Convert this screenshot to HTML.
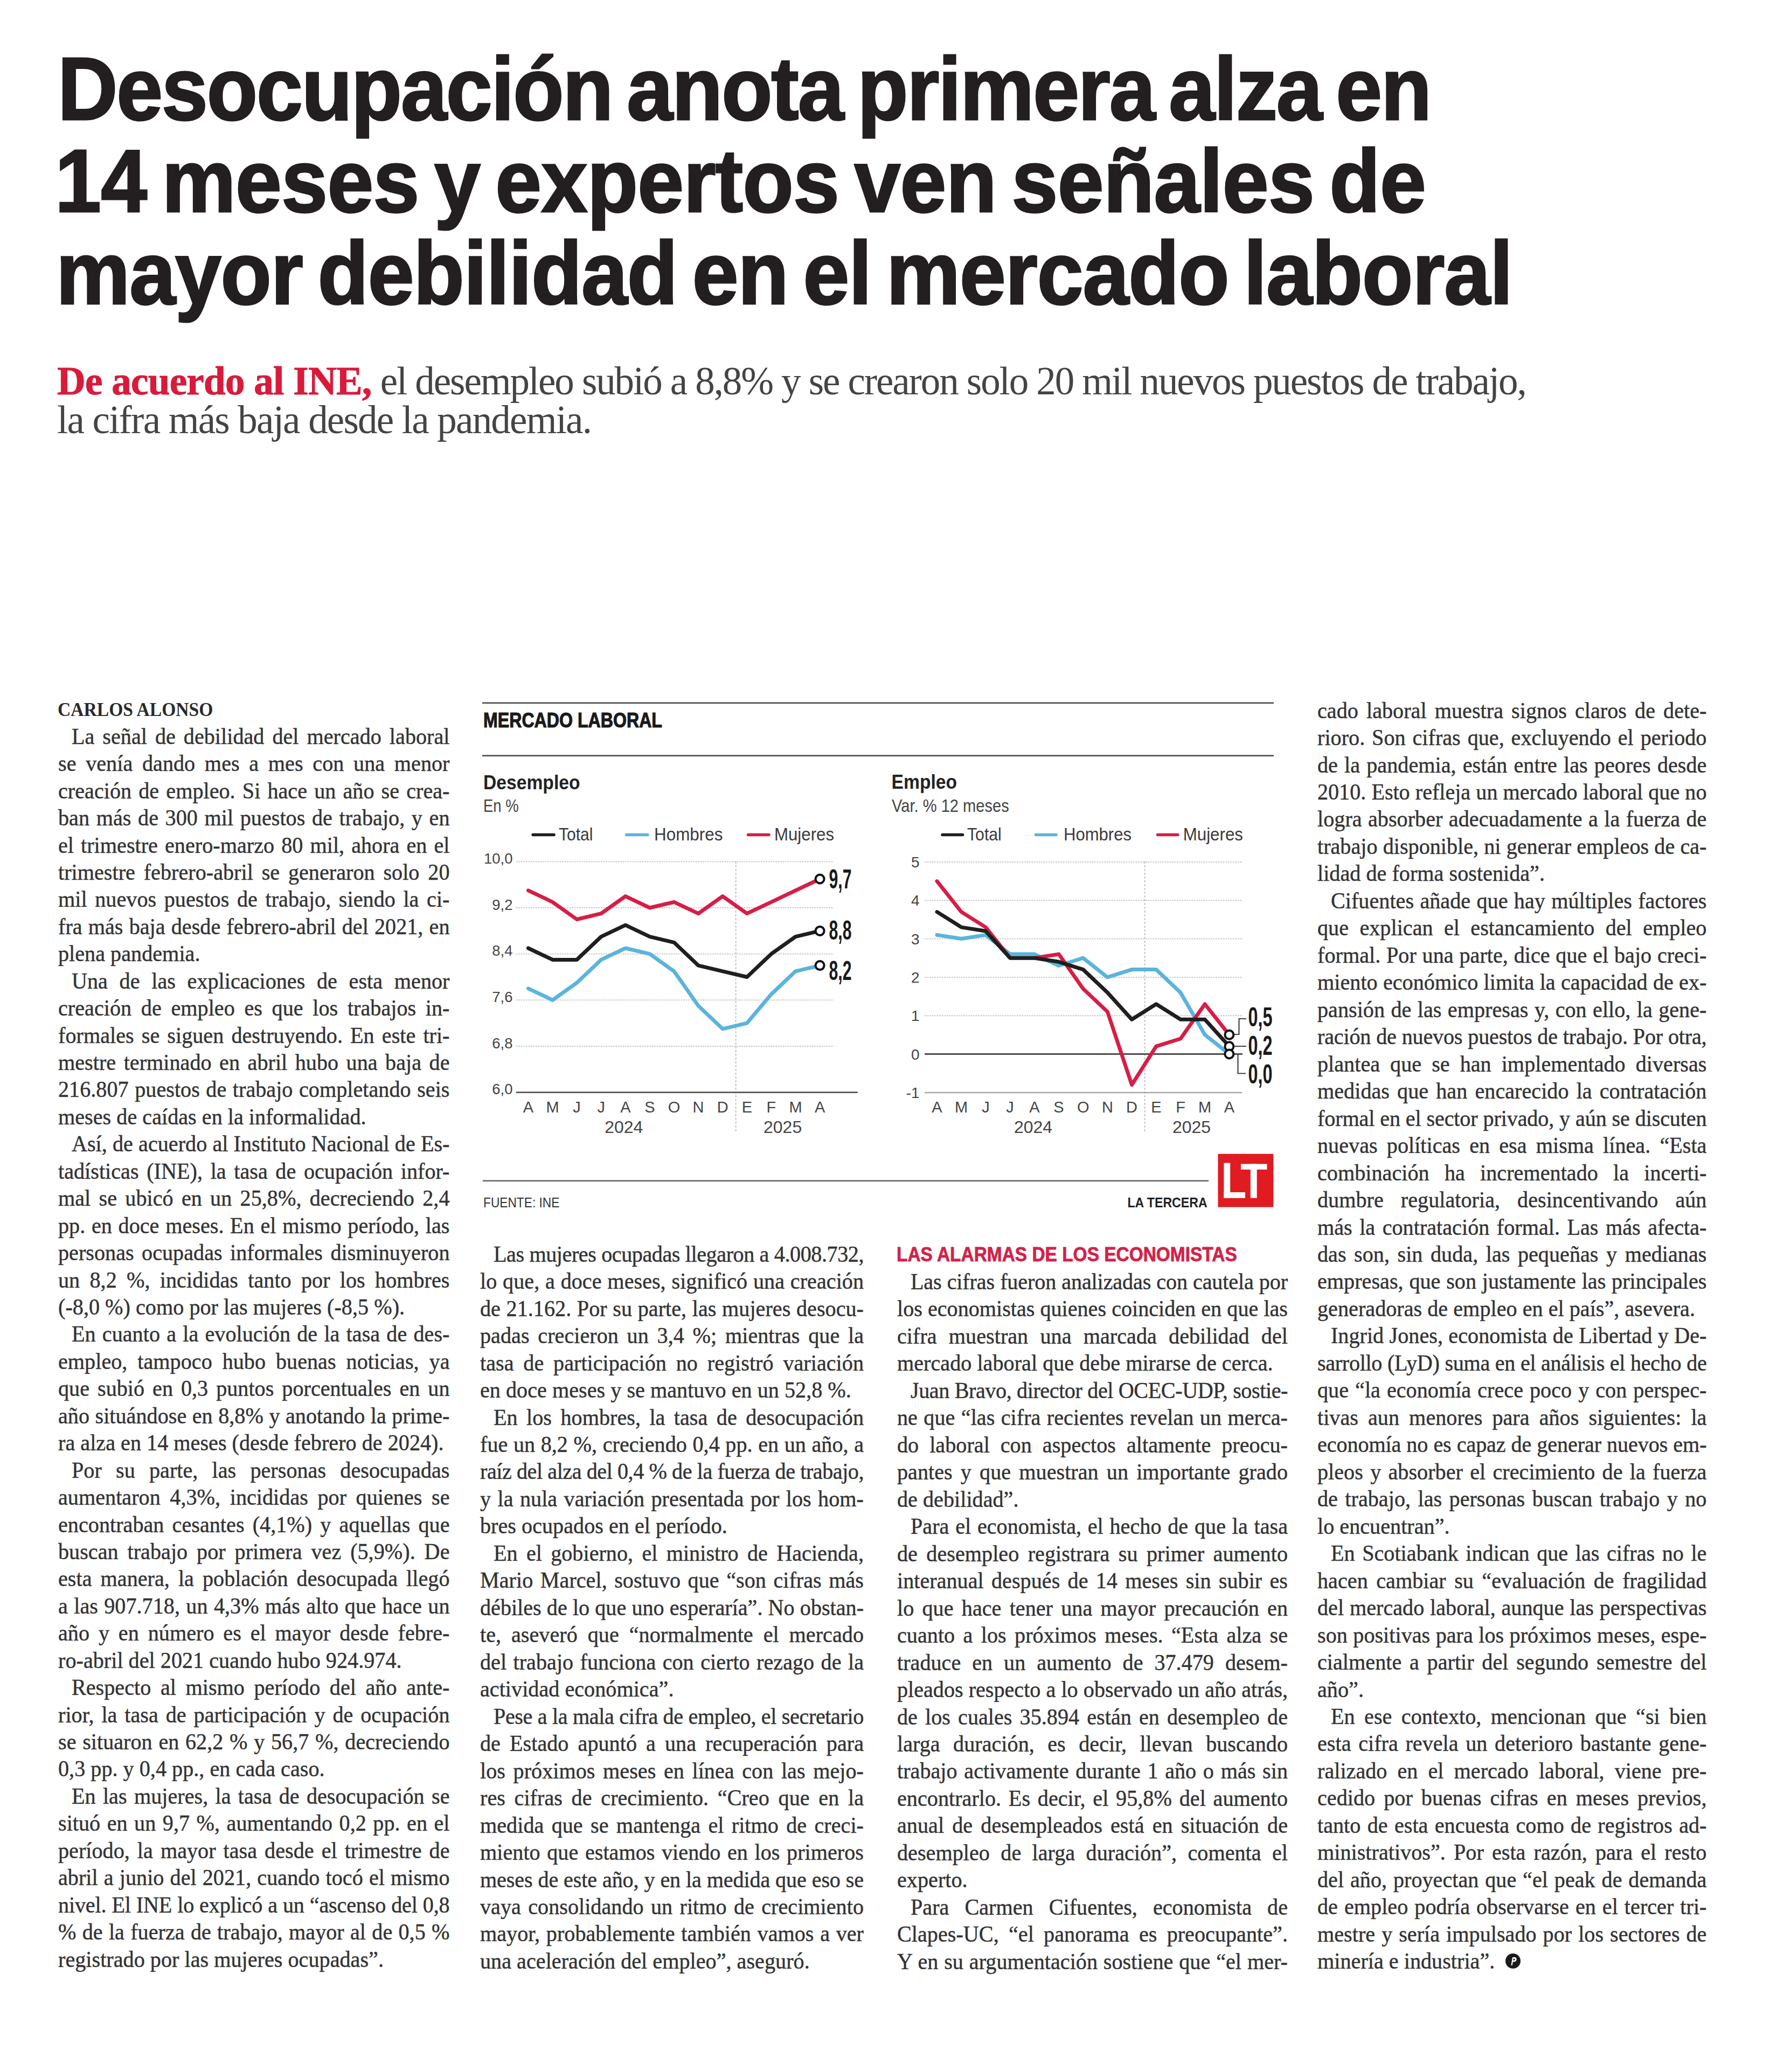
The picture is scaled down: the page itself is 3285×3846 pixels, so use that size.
<!DOCTYPE html>
<html><head><meta charset="utf-8">
<style>
html,body{margin:0;padding:0;background:#fff;}
body{width:3285px;height:3846px;position:relative;overflow:hidden;}
.hl{position:absolute;white-space:nowrap;font-family:"Liberation Sans",sans-serif;font-weight:bold;color:#231f20;transform-origin:0 0;-webkit-text-stroke:3px #231f20;}
.dk{position:absolute;white-space:nowrap;font-family:"Liberation Serif",serif;font-size:73px;line-height:73px;color:#444;}
.dk b{color:#d81b3b;letter-spacing:-0.7px;-webkit-text-stroke:1px #d81b3b;}
.dk span{letter-spacing:-2px;}
.ln{position:absolute;font-family:"Liberation Serif",serif;font-size:43.0px;line-height:50.44px;height:50.44px;color:#333;-webkit-text-stroke:0.45px #333;transform:scaleX(0.935);transform-origin:0 0;text-align:justify;text-align-last:justify;white-space:nowrap;}
.ln.l{text-align:left;text-align-last:left;}
.by{position:absolute;font-family:"Liberation Serif",serif;font-weight:bold;white-space:nowrap;color:#2a2a2a;}
.sh{position:absolute;font-family:"Liberation Sans",sans-serif;font-weight:bold;white-space:nowrap;color:#d2234a;-webkit-text-stroke:0.8px #d2234a;}
</style></head><body>

<div class="hl" style="left:106.6px;top:81.5px;font-size:166px;line-height:166px;transform:scaleX(0.93);letter-spacing:-2.30px;word-spacing:-15px">Desocupación anota primera alza en</div>
<div class="hl" style="left:102.0px;top:252.5px;font-size:166px;line-height:166px;transform:scaleX(0.93);letter-spacing:-0.76px;word-spacing:-15px">14 meses y expertos ven señales de</div>
<div class="hl" style="left:104.0px;top:423.5px;font-size:166px;line-height:166px;transform:scaleX(0.93);letter-spacing:-1.21px;word-spacing:-15px">mayor debilidad en el mercado laboral</div>
<div class="dk" style="left:106px;top:670.5px"><b>De acuerdo al INE,</b><span style="letter-spacing:-2.09px"> el desempleo subió a 8,8% y se crearon solo 20 mil nuevos puestos de trabajo,</span></div>
<div class="dk" style="left:106px;top:742.9px"><span style="letter-spacing:-1.8px">la cifra más baja desde la pandemia.</span></div>
<div class="by" style="left:107px;top:1296.7px;font-size:36.5px;line-height:40px;transform:scaleX(0.92);transform-origin:0 0">CARLOS ALONSO</div>
<div class="ln" style="left:107.5px;top:1341.7px;width:777.0px;text-indent:26.7px">La señal de debilidad del mercado laboral</div>
<div class="ln" style="left:107.5px;top:1392.1px;width:777.0px;text-indent:0.0px">se venía dando mes a mes con una menor</div>
<div class="ln" style="left:107.5px;top:1442.6px;width:777.0px;text-indent:0.0px">creación de empleo. Si hace un año se crea-</div>
<div class="ln" style="left:107.5px;top:1493.0px;width:777.0px;text-indent:0.0px">ban más de 300 mil puestos de trabajo, y en</div>
<div class="ln" style="left:107.5px;top:1543.5px;width:777.0px;text-indent:0.0px">el trimestre enero-marzo 80 mil, ahora en el</div>
<div class="ln" style="left:107.5px;top:1593.9px;width:777.0px;text-indent:0.0px">trimestre febrero-abril se generaron solo 20</div>
<div class="ln" style="left:107.5px;top:1644.3px;width:777.0px;text-indent:0.0px">mil nuevos puestos de trabajo, siendo la ci-</div>
<div class="ln" style="left:107.5px;top:1694.8px;width:777.0px;text-indent:0.0px">fra más baja desde febrero-abril del 2021, en</div>
<div class="ln l" style="left:107.5px;top:1745.2px;width:777.0px;text-indent:0.0px">plena pandemia.</div>
<div class="ln" style="left:107.5px;top:1795.7px;width:777.0px;text-indent:26.7px">Una de las explicaciones de esta menor</div>
<div class="ln" style="left:107.5px;top:1846.1px;width:777.0px;text-indent:0.0px">creación de empleo es que los trabajos in-</div>
<div class="ln" style="left:107.5px;top:1896.5px;width:777.0px;text-indent:0.0px">formales se siguen destruyendo. En este tri-</div>
<div class="ln" style="left:107.5px;top:1947.0px;width:777.0px;text-indent:0.0px">mestre terminado en abril hubo una baja de</div>
<div class="ln" style="left:107.5px;top:1997.4px;width:777.0px;text-indent:0.0px">216.807 puestos de trabajo completando seis</div>
<div class="ln l" style="left:107.5px;top:2047.9px;width:777.0px;text-indent:0.0px">meses de caídas en la informalidad.</div>
<div class="ln" style="left:107.5px;top:2098.3px;width:777.0px;text-indent:26.7px;letter-spacing:-0.01px">Así, de acuerdo al Instituto Nacional de Es-</div>
<div class="ln" style="left:107.5px;top:2148.7px;width:777.0px;text-indent:0.0px">tadísticas (INE), la tasa de ocupación infor-</div>
<div class="ln" style="left:107.5px;top:2199.2px;width:777.0px;text-indent:0.0px">mal se ubicó en un 25,8%, decreciendo 2,4</div>
<div class="ln" style="left:107.5px;top:2249.6px;width:777.0px;text-indent:0.0px">pp. en doce meses. En el mismo período, las</div>
<div class="ln" style="left:107.5px;top:2300.1px;width:777.0px;text-indent:0.0px">personas ocupadas informales disminuyeron</div>
<div class="ln" style="left:107.5px;top:2350.5px;width:777.0px;text-indent:0.0px">un 8,2 %, incididas tanto por los hombres</div>
<div class="ln l" style="left:107.5px;top:2400.9px;width:777.0px;text-indent:0.0px">(-8,0 %) como por las mujeres (-8,5 %).</div>
<div class="ln" style="left:107.5px;top:2451.4px;width:777.0px;text-indent:26.7px">En cuanto a la evolución de la tasa de des-</div>
<div class="ln" style="left:107.5px;top:2501.8px;width:777.0px;text-indent:0.0px">empleo, tampoco hubo buenas noticias, ya</div>
<div class="ln" style="left:107.5px;top:2552.3px;width:777.0px;text-indent:0.0px">que subió en 0,3 puntos porcentuales en un</div>
<div class="ln" style="left:107.5px;top:2602.7px;width:777.0px;text-indent:0.0px">año situándose en 8,8% y anotando la prime-</div>
<div class="ln l" style="left:107.5px;top:2653.1px;width:777.0px;text-indent:0.0px">ra alza en 14 meses (desde febrero de 2024).</div>
<div class="ln" style="left:107.5px;top:2703.6px;width:777.0px;text-indent:26.7px">Por su parte, las personas desocupadas</div>
<div class="ln" style="left:107.5px;top:2754.0px;width:777.0px;text-indent:0.0px">aumentaron 4,3%, incididas por quienes se</div>
<div class="ln" style="left:107.5px;top:2804.5px;width:777.0px;text-indent:0.0px">encontraban cesantes (4,1%) y aquellas que</div>
<div class="ln" style="left:107.5px;top:2854.9px;width:777.0px;text-indent:0.0px">buscan trabajo por primera vez (5,9%). De</div>
<div class="ln" style="left:107.5px;top:2905.3px;width:777.0px;text-indent:0.0px">esta manera, la población desocupada llegó</div>
<div class="ln" style="left:107.5px;top:2955.8px;width:777.0px;text-indent:0.0px">a las 907.718, un 4,3% más alto que hace un</div>
<div class="ln" style="left:107.5px;top:3006.2px;width:777.0px;text-indent:0.0px">año y en número es el mayor desde febre-</div>
<div class="ln l" style="left:107.5px;top:3056.7px;width:777.0px;text-indent:0.0px">ro-abril del 2021 cuando hubo 924.974.</div>
<div class="ln" style="left:107.5px;top:3107.1px;width:777.0px;text-indent:26.7px">Respecto al mismo período del año ante-</div>
<div class="ln" style="left:107.5px;top:3157.5px;width:777.0px;text-indent:0.0px">rior, la tasa de participación y de ocupación</div>
<div class="ln" style="left:107.5px;top:3208.0px;width:777.0px;text-indent:0.0px">se situaron en 62,2 % y 56,7 %, decreciendo</div>
<div class="ln l" style="left:107.5px;top:3258.4px;width:777.0px;text-indent:0.0px">0,3 pp. y 0,4 pp., en cada caso.</div>
<div class="ln" style="left:107.5px;top:3308.9px;width:777.0px;text-indent:26.7px">En las mujeres, la tasa de desocupación se</div>
<div class="ln" style="left:107.5px;top:3359.3px;width:777.0px;text-indent:0.0px">situó en un 9,7 %, aumentando 0,2 pp. en el</div>
<div class="ln" style="left:107.5px;top:3409.7px;width:777.0px;text-indent:0.0px">período, la mayor tasa desde el trimestre de</div>
<div class="ln" style="left:107.5px;top:3460.2px;width:777.0px;text-indent:0.0px">abril a junio del 2021, cuando tocó el mismo</div>
<div class="ln" style="left:107.5px;top:3510.6px;width:777.0px;text-indent:0.0px;letter-spacing:-0.19px">nivel. El INE lo explicó a un “ascenso del 0,8</div>
<div class="ln" style="left:107.5px;top:3561.1px;width:777.0px;text-indent:0.0px">% de la fuerza de trabajo, mayor al de 0,5 %</div>
<div class="ln l" style="left:107.5px;top:3611.5px;width:777.0px;text-indent:0.0px">registrado por las mujeres ocupadas”.</div>
<div class="ln" style="left:891.0px;top:2302.7px;width:761.5px;text-indent:26.7px;letter-spacing:-0.50px">Las mujeres ocupadas llegaron a 4.008.732,</div>
<div class="ln" style="left:891.0px;top:2353.1px;width:761.5px;text-indent:0.0px">lo que, a doce meses, significó una creación</div>
<div class="ln" style="left:891.0px;top:2403.6px;width:761.5px;text-indent:0.0px">de 21.162. Por su parte, las mujeres desocu-</div>
<div class="ln" style="left:891.0px;top:2454.1px;width:761.5px;text-indent:0.0px">padas crecieron un 3,4 %; mientras que la</div>
<div class="ln" style="left:891.0px;top:2504.5px;width:761.5px;text-indent:0.0px">tasa de participación no registró variación</div>
<div class="ln l" style="left:891.0px;top:2555.0px;width:761.5px;text-indent:0.0px">en doce meses y se mantuvo en un 52,8 %.</div>
<div class="ln" style="left:891.0px;top:2605.5px;width:761.5px;text-indent:26.7px">En los hombres, la tasa de desocupación</div>
<div class="ln" style="left:891.0px;top:2656.0px;width:761.5px;text-indent:0.0px">fue un 8,2 %, creciendo 0,4 pp. en un año, a</div>
<div class="ln" style="left:891.0px;top:2706.4px;width:761.5px;text-indent:0.0px;letter-spacing:-0.52px">raíz del alza del 0,4 % de la fuerza de trabajo,</div>
<div class="ln" style="left:891.0px;top:2756.9px;width:761.5px;text-indent:0.0px">y la nula variación presentada por los hom-</div>
<div class="ln l" style="left:891.0px;top:2807.4px;width:761.5px;text-indent:0.0px">bres ocupados en el período.</div>
<div class="ln" style="left:891.0px;top:2857.8px;width:761.5px;text-indent:26.7px">En el gobierno, el ministro de Hacienda,</div>
<div class="ln" style="left:891.0px;top:2908.3px;width:761.5px;text-indent:0.0px">Mario Marcel, sostuvo que “son cifras más</div>
<div class="ln" style="left:891.0px;top:2958.8px;width:761.5px;text-indent:0.0px;letter-spacing:-0.03px">débiles de lo que uno esperaría”. No obstan-</div>
<div class="ln" style="left:891.0px;top:3009.2px;width:761.5px;text-indent:0.0px">te, aseveró que “normalmente el mercado</div>
<div class="ln" style="left:891.0px;top:3059.7px;width:761.5px;text-indent:0.0px">del trabajo funciona con cierto rezago de la</div>
<div class="ln l" style="left:891.0px;top:3110.2px;width:761.5px;text-indent:0.0px">actividad económica”.</div>
<div class="ln" style="left:891.0px;top:3160.7px;width:761.5px;text-indent:26.7px;letter-spacing:-0.43px">Pese a la mala cifra de empleo, el secretario</div>
<div class="ln" style="left:891.0px;top:3211.1px;width:761.5px;text-indent:0.0px">de Estado apuntó a una recuperación para</div>
<div class="ln" style="left:891.0px;top:3261.6px;width:761.5px;text-indent:0.0px">los próximos meses en línea con las mejo-</div>
<div class="ln" style="left:891.0px;top:3312.1px;width:761.5px;text-indent:0.0px">res cifras de crecimiento. “Creo que en la</div>
<div class="ln" style="left:891.0px;top:3362.5px;width:761.5px;text-indent:0.0px">medida que se mantenga el ritmo de creci-</div>
<div class="ln" style="left:891.0px;top:3413.0px;width:761.5px;text-indent:0.0px">miento que estamos viendo en los primeros</div>
<div class="ln" style="left:891.0px;top:3463.5px;width:761.5px;text-indent:0.0px;letter-spacing:-0.17px">meses de este año, y en la medida que eso se</div>
<div class="ln" style="left:891.0px;top:3513.9px;width:761.5px;text-indent:0.0px">vaya consolidando un ritmo de crecimiento</div>
<div class="ln" style="left:891.0px;top:3564.4px;width:761.5px;text-indent:0.0px">mayor, probablemente también vamos a ver</div>
<div class="ln l" style="left:891.0px;top:3614.9px;width:761.5px;text-indent:0.0px">una aceleración del empleo”, aseguró.</div>
<div class="ln" style="left:1665.0px;top:2353.9px;width:775.4px;text-indent:26.7px;letter-spacing:-0.16px">Las cifras fueron analizadas con cautela por</div>
<div class="ln" style="left:1665.0px;top:2404.4px;width:775.4px;text-indent:0.0px;letter-spacing:-0.04px">los economistas quienes coinciden en que las</div>
<div class="ln" style="left:1665.0px;top:2454.9px;width:775.4px;text-indent:0.0px">cifra muestran una marcada debilidad del</div>
<div class="ln l" style="left:1665.0px;top:2505.3px;width:775.4px;text-indent:0.0px">mercado laboral que debe mirarse de cerca.</div>
<div class="ln" style="left:1665.0px;top:2555.8px;width:775.4px;text-indent:26.7px;letter-spacing:-0.48px">Juan Bravo, director del OCEC-UDP, sostie-</div>
<div class="ln" style="left:1665.0px;top:2606.3px;width:775.4px;text-indent:0.0px">ne que “las cifra recientes revelan un merca-</div>
<div class="ln" style="left:1665.0px;top:2656.8px;width:775.4px;text-indent:0.0px">do laboral con aspectos altamente preocu-</div>
<div class="ln" style="left:1665.0px;top:2707.2px;width:775.4px;text-indent:0.0px">pantes y que muestran un importante grado</div>
<div class="ln l" style="left:1665.0px;top:2757.7px;width:775.4px;text-indent:0.0px">de debilidad”.</div>
<div class="ln" style="left:1665.0px;top:2808.2px;width:775.4px;text-indent:26.7px">Para el economista, el hecho de que la tasa</div>
<div class="ln" style="left:1665.0px;top:2858.6px;width:775.4px;text-indent:0.0px">de desempleo registrara su primer aumento</div>
<div class="ln" style="left:1665.0px;top:2909.1px;width:775.4px;text-indent:0.0px">interanual después de 14 meses sin subir es</div>
<div class="ln" style="left:1665.0px;top:2959.6px;width:775.4px;text-indent:0.0px">lo que hace tener una mayor precaución en</div>
<div class="ln" style="left:1665.0px;top:3010.0px;width:775.4px;text-indent:0.0px">cuanto a los próximos meses. “Esta alza se</div>
<div class="ln" style="left:1665.0px;top:3060.5px;width:775.4px;text-indent:0.0px">traduce en un aumento de 37.479 desem-</div>
<div class="ln" style="left:1665.0px;top:3111.0px;width:775.4px;text-indent:0.0px;letter-spacing:-0.04px">pleados respecto a lo observado un año atrás,</div>
<div class="ln" style="left:1665.0px;top:3161.5px;width:775.4px;text-indent:0.0px">de los cuales 35.894 están en desempleo de</div>
<div class="ln" style="left:1665.0px;top:3211.9px;width:775.4px;text-indent:0.0px">larga duración, es decir, llevan buscando</div>
<div class="ln" style="left:1665.0px;top:3262.4px;width:775.4px;text-indent:0.0px">trabajo activamente durante 1 año o más sin</div>
<div class="ln" style="left:1665.0px;top:3312.9px;width:775.4px;text-indent:0.0px">encontrarlo. Es decir, el 95,8% del aumento</div>
<div class="ln" style="left:1665.0px;top:3363.3px;width:775.4px;text-indent:0.0px">anual de desempleados está en situación de</div>
<div class="ln" style="left:1665.0px;top:3413.8px;width:775.4px;text-indent:0.0px">desempleo de larga duración”, comenta el</div>
<div class="ln l" style="left:1665.0px;top:3464.3px;width:775.4px;text-indent:0.0px">experto.</div>
<div class="ln" style="left:1665.0px;top:3514.7px;width:775.4px;text-indent:26.7px">Para Carmen Cifuentes, economista de</div>
<div class="ln" style="left:1665.0px;top:3565.2px;width:775.4px;text-indent:0.0px">Clapes-UC, “el panorama es preocupante”.</div>
<div class="ln" style="left:1665.0px;top:3615.7px;width:775.4px;text-indent:0.0px">Y en su argumentación sostiene que “el mer-</div>
<div class="ln" style="left:2444.5px;top:1293.6px;width:772.7px;text-indent:0.0px">cado laboral muestra signos claros de dete-</div>
<div class="ln" style="left:2444.5px;top:1344.0px;width:772.7px;text-indent:0.0px">rioro. Son cifras que, excluyendo el periodo</div>
<div class="ln" style="left:2444.5px;top:1394.5px;width:772.7px;text-indent:0.0px">de la pandemia, están entre las peores desde</div>
<div class="ln" style="left:2444.5px;top:1445.0px;width:772.7px;text-indent:0.0px;letter-spacing:-0.05px">2010. Esto refleja un mercado laboral que no</div>
<div class="ln" style="left:2444.5px;top:1495.4px;width:772.7px;text-indent:0.0px">logra absorber adecuadamente a la fuerza de</div>
<div class="ln" style="left:2444.5px;top:1545.9px;width:772.7px;text-indent:0.0px;letter-spacing:-0.02px">trabajo disponible, ni generar empleos de ca-</div>
<div class="ln l" style="left:2444.5px;top:1596.4px;width:772.7px;text-indent:0.0px">lidad de forma sostenida”.</div>
<div class="ln" style="left:2444.5px;top:1646.9px;width:772.7px;text-indent:26.7px">Cifuentes añade que hay múltiples factores</div>
<div class="ln" style="left:2444.5px;top:1697.3px;width:772.7px;text-indent:0.0px">que explican el estancamiento del empleo</div>
<div class="ln" style="left:2444.5px;top:1747.8px;width:772.7px;text-indent:0.0px">formal. Por una parte, dice que el bajo creci-</div>
<div class="ln" style="left:2444.5px;top:1798.3px;width:772.7px;text-indent:0.0px">miento económico limita la capacidad de ex-</div>
<div class="ln" style="left:2444.5px;top:1848.7px;width:772.7px;text-indent:0.0px">pansión de las empresas y, con ello, la gene-</div>
<div class="ln" style="left:2444.5px;top:1899.2px;width:772.7px;text-indent:0.0px;letter-spacing:-0.23px">ración de nuevos puestos de trabajo. Por otra,</div>
<div class="ln" style="left:2444.5px;top:1949.7px;width:772.7px;text-indent:0.0px">plantea que se han implementado diversas</div>
<div class="ln" style="left:2444.5px;top:2000.1px;width:772.7px;text-indent:0.0px">medidas que han encarecido la contratación</div>
<div class="ln" style="left:2444.5px;top:2050.6px;width:772.7px;text-indent:0.0px;letter-spacing:-0.17px">formal en el sector privado, y aún se discuten</div>
<div class="ln" style="left:2444.5px;top:2101.1px;width:772.7px;text-indent:0.0px">nuevas políticas en esa misma línea. “Esta</div>
<div class="ln" style="left:2444.5px;top:2151.6px;width:772.7px;text-indent:0.0px">combinación ha incrementado la incerti-</div>
<div class="ln" style="left:2444.5px;top:2202.0px;width:772.7px;text-indent:0.0px">dumbre regulatoria, desincentivando aún</div>
<div class="ln" style="left:2444.5px;top:2252.5px;width:772.7px;text-indent:0.0px">más la contratación formal. Las más afecta-</div>
<div class="ln" style="left:2444.5px;top:2303.0px;width:772.7px;text-indent:0.0px">das son, sin duda, las pequeñas y medianas</div>
<div class="ln" style="left:2444.5px;top:2353.4px;width:772.7px;text-indent:0.0px">empresas, que son justamente las principales</div>
<div class="ln l" style="left:2444.5px;top:2403.9px;width:772.7px;text-indent:0.0px">generadoras de empleo en el país”, asevera.</div>
<div class="ln" style="left:2444.5px;top:2454.4px;width:772.7px;text-indent:26.7px">Ingrid Jones, economista de Libertad y De-</div>
<div class="ln" style="left:2444.5px;top:2504.8px;width:772.7px;text-indent:0.0px;letter-spacing:-0.36px">sarrollo (LyD) suma en el análisis el hecho de</div>
<div class="ln" style="left:2444.5px;top:2555.3px;width:772.7px;text-indent:0.0px">que “la economía crece poco y con perspec-</div>
<div class="ln" style="left:2444.5px;top:2605.8px;width:772.7px;text-indent:0.0px">tivas aun menores para años siguientes: la</div>
<div class="ln" style="left:2444.5px;top:2656.3px;width:772.7px;text-indent:0.0px;letter-spacing:-0.13px">economía no es capaz de generar nuevos em-</div>
<div class="ln" style="left:2444.5px;top:2706.7px;width:772.7px;text-indent:0.0px">pleos y absorber el crecimiento de la fuerza</div>
<div class="ln" style="left:2444.5px;top:2757.2px;width:772.7px;text-indent:0.0px">de trabajo, las personas buscan trabajo y no</div>
<div class="ln l" style="left:2444.5px;top:2807.7px;width:772.7px;text-indent:0.0px">lo encuentran”.</div>
<div class="ln" style="left:2444.5px;top:2858.1px;width:772.7px;text-indent:26.7px">En Scotiabank indican que las cifras no le</div>
<div class="ln" style="left:2444.5px;top:2908.6px;width:772.7px;text-indent:0.0px">hacen cambiar su “evaluación de fragilidad</div>
<div class="ln" style="left:2444.5px;top:2959.1px;width:772.7px;text-indent:0.0px">del mercado laboral, aunque las perspectivas</div>
<div class="ln" style="left:2444.5px;top:3009.5px;width:772.7px;text-indent:0.0px">son positivas para los próximos meses, espe-</div>
<div class="ln" style="left:2444.5px;top:3060.0px;width:772.7px;text-indent:0.0px">cialmente a partir del segundo semestre del</div>
<div class="ln l" style="left:2444.5px;top:3110.5px;width:772.7px;text-indent:0.0px">año”.</div>
<div class="ln" style="left:2444.5px;top:3161.0px;width:772.7px;text-indent:26.7px">En ese contexto, mencionan que “si bien</div>
<div class="ln" style="left:2444.5px;top:3211.4px;width:772.7px;text-indent:0.0px">esta cifra revela un deterioro bastante gene-</div>
<div class="ln" style="left:2444.5px;top:3261.9px;width:772.7px;text-indent:0.0px">ralizado en el mercado laboral, viene pre-</div>
<div class="ln" style="left:2444.5px;top:3312.4px;width:772.7px;text-indent:0.0px">cedido por buenas cifras en meses previos,</div>
<div class="ln" style="left:2444.5px;top:3362.8px;width:772.7px;text-indent:0.0px">tanto de esta encuesta como de registros ad-</div>
<div class="ln" style="left:2444.5px;top:3413.3px;width:772.7px;text-indent:0.0px">ministrativos”. Por esta razón, para el resto</div>
<div class="ln" style="left:2444.5px;top:3463.8px;width:772.7px;text-indent:0.0px">del año, proyectan que “el peak de demanda</div>
<div class="ln" style="left:2444.5px;top:3514.2px;width:772.7px;text-indent:0.0px">de empleo podría observarse en el tercer tri-</div>
<div class="ln" style="left:2444.5px;top:3564.7px;width:772.7px;text-indent:0.0px">mestre y sería impulsado por los sectores de</div>
<div class="ln l" style="left:2444.5px;top:3615.2px;width:772.7px;text-indent:0.0px">minería e industria”.</div>
<div class="sh" style="left:1664px;top:2308.9px;font-size:36px;line-height:40px;transform:scaleX(0.929);transform-origin:0 0">LAS ALARMAS DE LOS ECONOMISTAS</div>
<svg style="position:absolute;left:2790px;top:3622px" width="36" height="36" viewBox="0 0 36 36"><circle cx="18" cy="18" r="14" fill="#1a1a1a"/><path d="M14.5,26 L17,11 H20.5 C24,11 25,13 24.6,15.5 C24.2,18 22.5,19.5 19.5,19.5 H17.8 L16.7,26 Z M18.3,16.8 H19.6 C21,16.8 21.6,16.2 21.7,15.3 C21.8,14.4 21.3,13.8 20.1,13.8 H18.8 Z" fill="#fff" fill-rule="evenodd"/></svg>
<svg style="position:absolute;left:0;top:0" width="3285" height="3846" viewBox="0 0 3285 3846" font-family='"Liberation Sans",sans-serif'>
<rect x="895" y="1303.5" width="1469" height="2.6" fill="#4a4a4a"/>
<rect x="895" y="1401.4" width="1469" height="2.6" fill="#4a4a4a"/>
<rect x="896" y="2190.5" width="1347" height="2.6" fill="#666"/>
<text x="897.0" y="1350.0" font-size="38.0" font-weight="bold" fill="#1a1a1a" textLength="332.0" lengthAdjust="spacingAndGlyphs" stroke="#1a1a1a" stroke-width="1.2">MERCADO LABORAL</text>
<text x="897.0" y="1465.3" font-size="37.5" font-weight="bold" fill="#222" textLength="179.5" lengthAdjust="spacingAndGlyphs">Desempleo</text>
<text x="897.0" y="1507.0" font-size="33.0" fill="#444" textLength="65.7" lengthAdjust="spacingAndGlyphs">En %</text>
<text x="1654.6" y="1464.4" font-size="37.5" font-weight="bold" fill="#222" textLength="121.4" lengthAdjust="spacingAndGlyphs">Empleo</text>
<text x="1655.0" y="1506.8" font-size="33.0" fill="#444" textLength="217.8" lengthAdjust="spacingAndGlyphs">Var. % 12 meses</text>
<line x1="989.1" y1="1549.5" x2="1028.0" y2="1549.5" stroke="#1f1f1f" stroke-width="5.5" stroke-linecap="round"/>
<text x="1037.0" y="1560.0" font-size="33.0" fill="#3a3a3a" textLength="63.5" lengthAdjust="spacingAndGlyphs">Total</text>
<line x1="1162.5" y1="1549.5" x2="1202.0" y2="1549.5" stroke="#5ab4dc" stroke-width="5.5" stroke-linecap="round"/>
<text x="1214.0" y="1560.0" font-size="33.0" fill="#3a3a3a" textLength="127.4" lengthAdjust="spacingAndGlyphs">Hombres</text>
<line x1="1388.5" y1="1549.5" x2="1427.0" y2="1549.5" stroke="#d61e46" stroke-width="5.5" stroke-linecap="round"/>
<text x="1437.0" y="1560.0" font-size="33.0" fill="#3a3a3a" textLength="111.0" lengthAdjust="spacingAndGlyphs">Mujeres</text>
<line x1="1749.0" y1="1549.5" x2="1786.5" y2="1549.5" stroke="#1f1f1f" stroke-width="5.5" stroke-linecap="round"/>
<text x="1795.0" y="1560.0" font-size="33.0" fill="#3a3a3a" textLength="63.8" lengthAdjust="spacingAndGlyphs">Total</text>
<line x1="1922.5" y1="1549.5" x2="1960.1" y2="1549.5" stroke="#5ab4dc" stroke-width="5.5" stroke-linecap="round"/>
<text x="1974.0" y="1560.0" font-size="33.0" fill="#3a3a3a" textLength="126.0" lengthAdjust="spacingAndGlyphs">Hombres</text>
<line x1="2148.5" y1="1549.5" x2="2186.0" y2="1549.5" stroke="#d61e46" stroke-width="5.5" stroke-linecap="round"/>
<text x="2195.7" y="1560.0" font-size="33.0" fill="#3a3a3a" textLength="111.3" lengthAdjust="spacingAndGlyphs">Mujeres</text>
<line x1="957.8" y1="1599.4" x2="1547.5" y2="1599.4" stroke="#c4c4c4" stroke-width="2" stroke-dasharray="2.5,2"/>
<line x1="957.8" y1="1685.0" x2="1547.5" y2="1685.0" stroke="#c4c4c4" stroke-width="2" stroke-dasharray="2.5,2"/>
<line x1="957.8" y1="1770.7" x2="1547.5" y2="1770.7" stroke="#c4c4c4" stroke-width="2" stroke-dasharray="2.5,2"/>
<line x1="957.8" y1="1856.3" x2="1547.5" y2="1856.3" stroke="#c4c4c4" stroke-width="2" stroke-dasharray="2.5,2"/>
<line x1="957.8" y1="1942.0" x2="1547.5" y2="1942.0" stroke="#c4c4c4" stroke-width="2" stroke-dasharray="2.5,2"/>
<text x="951.5" y="1602.9" font-size="27.5" text-anchor="end" fill="#444">10,0</text>
<text x="951.5" y="1688.5" font-size="27.5" text-anchor="end" fill="#444">9,2</text>
<text x="951.5" y="1774.2" font-size="27.5" text-anchor="end" fill="#444">8,4</text>
<text x="951.5" y="1859.8" font-size="27.5" text-anchor="end" fill="#444">7,6</text>
<text x="951.5" y="1945.5" font-size="27.5" text-anchor="end" fill="#444">6,8</text>
<text x="951.5" y="2031.1" font-size="27.5" text-anchor="end" fill="#444">6,0</text>
<line x1="1365.6" y1="1599" x2="1365.6" y2="2103" stroke="#c4c4c4" stroke-width="2" stroke-dasharray="4,3"/>
<rect x="957.8" y="2026.3" width="634" height="2.7" fill="#555"/>
<text x="980.4" y="2065.0" font-size="29.0" text-anchor="middle" fill="#444">A</text>
<text x="1025.5" y="2065.0" font-size="29.0" text-anchor="middle" fill="#444">M</text>
<text x="1070.6" y="2065.0" font-size="29.0" text-anchor="middle" fill="#444">J</text>
<text x="1115.7" y="2065.0" font-size="29.0" text-anchor="middle" fill="#444">J</text>
<text x="1160.8" y="2065.0" font-size="29.0" text-anchor="middle" fill="#444">A</text>
<text x="1205.9" y="2065.0" font-size="29.0" text-anchor="middle" fill="#444">S</text>
<text x="1251.0" y="2065.0" font-size="29.0" text-anchor="middle" fill="#444">O</text>
<text x="1296.1" y="2065.0" font-size="29.0" text-anchor="middle" fill="#444">N</text>
<text x="1341.2" y="2065.0" font-size="29.0" text-anchor="middle" fill="#444">D</text>
<text x="1386.3" y="2065.0" font-size="29.0" text-anchor="middle" fill="#444">E</text>
<text x="1431.4" y="2065.0" font-size="29.0" text-anchor="middle" fill="#444">F</text>
<text x="1476.5" y="2065.0" font-size="29.0" text-anchor="middle" fill="#444">M</text>
<text x="1521.6" y="2065.0" font-size="29.0" text-anchor="middle" fill="#444">A</text>
<text x="1157.8" y="2103.3" font-size="32.0" text-anchor="middle" fill="#444">2024</text>
<text x="1452.6" y="2102.5" font-size="32.0" text-anchor="middle" fill="#444">2025</text>
<polyline points="980.4,1834.9 1025.5,1856.3 1070.6,1824.2 1115.7,1781.4 1160.8,1760.0 1205.9,1770.7 1251.0,1802.8 1296.1,1867.0 1341.2,1909.8 1386.3,1899.1 1431.4,1845.6 1476.5,1802.8 1521.6,1792.1" fill="none" stroke="#5ab4dc" stroke-width="7" stroke-linejoin="round" stroke-linecap="round"/>
<polyline points="980.4,1652.9 1025.5,1674.3 1070.6,1706.5 1115.7,1695.7 1160.8,1663.6 1205.9,1685.0 1251.0,1674.3 1296.1,1695.7 1341.2,1663.6 1386.3,1695.7 1431.4,1674.3 1476.5,1652.9 1521.6,1631.5" fill="none" stroke="#d61e46" stroke-width="7" stroke-linejoin="round" stroke-linecap="round"/>
<polyline points="980.4,1760.0 1025.5,1781.4 1070.6,1781.4 1115.7,1738.6 1160.8,1717.2 1205.9,1738.6 1251.0,1749.3 1296.1,1792.1 1341.2,1802.8 1386.3,1813.5 1431.4,1770.7 1476.5,1738.6 1521.6,1727.9" fill="none" stroke="#1f1f1f" stroke-width="7" stroke-linejoin="round" stroke-linecap="round"/>
<circle cx="1521.6" cy="1631.5" r="8" fill="#fff" stroke="#111" stroke-width="4"/>
<circle cx="1521.6" cy="1727.9" r="8" fill="#fff" stroke="#111" stroke-width="4"/>
<circle cx="1521.6" cy="1792.1" r="8" fill="#fff" stroke="#111" stroke-width="4"/>
<text x="1538.5" y="1649.0" font-size="50.0" font-weight="bold" fill="#1a1a1a" textLength="42.0" lengthAdjust="spacingAndGlyphs">9,7</text>
<text x="1538.5" y="1744.0" font-size="50.0" font-weight="bold" fill="#1a1a1a" textLength="42.0" lengthAdjust="spacingAndGlyphs">8,8</text>
<text x="1538.5" y="1818.6" font-size="50.0" font-weight="bold" fill="#1a1a1a" textLength="42.0" lengthAdjust="spacingAndGlyphs">8,2</text>
<line x1="1716.3" y1="1599.9" x2="2306.4" y2="1599.9" stroke="#c4c4c4" stroke-width="2" stroke-dasharray="2.5,2"/>
<line x1="1716.3" y1="1671.2" x2="2306.4" y2="1671.2" stroke="#c4c4c4" stroke-width="2" stroke-dasharray="2.5,2"/>
<line x1="1716.3" y1="1742.5" x2="2306.4" y2="1742.5" stroke="#c4c4c4" stroke-width="2" stroke-dasharray="2.5,2"/>
<line x1="1716.3" y1="1813.9" x2="2306.4" y2="1813.9" stroke="#c4c4c4" stroke-width="2" stroke-dasharray="2.5,2"/>
<line x1="1716.3" y1="1885.2" x2="2306.4" y2="1885.2" stroke="#c4c4c4" stroke-width="2" stroke-dasharray="2.5,2"/>
<text x="1706.6" y="1609.9" font-size="28.0" text-anchor="end" fill="#444">5</text>
<text x="1706.6" y="1681.2" font-size="28.0" text-anchor="end" fill="#444">4</text>
<text x="1706.6" y="1752.5" font-size="28.0" text-anchor="end" fill="#444">3</text>
<text x="1706.6" y="1823.9" font-size="28.0" text-anchor="end" fill="#444">2</text>
<text x="1706.6" y="1895.2" font-size="28.0" text-anchor="end" fill="#444">1</text>
<text x="1706.6" y="1966.5" font-size="28.0" text-anchor="end" fill="#444">0</text>
<text x="1706.6" y="2037.8" font-size="28.0" text-anchor="end" fill="#444">-1</text>
<line x1="2124.5" y1="1599" x2="2124.5" y2="2102" stroke="#c4c4c4" stroke-width="2" stroke-dasharray="4,3"/>
<rect x="1716" y="1955.2" width="590" height="2.6" fill="#333"/>
<rect x="1716" y="2026.8" width="589" height="2.5" fill="#a8a8a8"/>
<text x="1739.0" y="2064.5" font-size="29.0" text-anchor="middle" fill="#444">A</text>
<text x="1784.2" y="2064.5" font-size="29.0" text-anchor="middle" fill="#444">M</text>
<text x="1829.4" y="2064.5" font-size="29.0" text-anchor="middle" fill="#444">J</text>
<text x="1874.6" y="2064.5" font-size="29.0" text-anchor="middle" fill="#444">J</text>
<text x="1919.8" y="2064.5" font-size="29.0" text-anchor="middle" fill="#444">A</text>
<text x="1965.0" y="2064.5" font-size="29.0" text-anchor="middle" fill="#444">S</text>
<text x="2010.2" y="2064.5" font-size="29.0" text-anchor="middle" fill="#444">O</text>
<text x="2055.4" y="2064.5" font-size="29.0" text-anchor="middle" fill="#444">N</text>
<text x="2100.6" y="2064.5" font-size="29.0" text-anchor="middle" fill="#444">D</text>
<text x="2145.8" y="2064.5" font-size="29.0" text-anchor="middle" fill="#444">E</text>
<text x="2191.0" y="2064.5" font-size="29.0" text-anchor="middle" fill="#444">F</text>
<text x="2236.2" y="2064.5" font-size="29.0" text-anchor="middle" fill="#444">M</text>
<text x="2281.4" y="2064.5" font-size="29.0" text-anchor="middle" fill="#444">A</text>
<text x="1917.5" y="2103.0" font-size="32.0" text-anchor="middle" fill="#444">2024</text>
<text x="2211.5" y="2103.0" font-size="32.0" text-anchor="middle" fill="#444">2025</text>
<polyline points="1739.0,1735.4 1784.2,1742.5 1829.4,1735.4 1874.6,1771.1 1919.8,1771.1 1965.0,1792.5 2010.2,1778.2 2055.4,1813.9 2100.6,1799.6 2145.8,1799.6 2191.0,1842.4 2236.2,1920.8 2281.4,1956.5" fill="none" stroke="#5ab4dc" stroke-width="7" stroke-linejoin="round" stroke-linecap="round"/>
<polyline points="1739.0,1635.6 1784.2,1692.6 1829.4,1721.1 1874.6,1778.2 1919.8,1778.2 1965.0,1771.1 2010.2,1835.3 2055.4,1878.0 2100.6,2013.6 2145.8,1942.2 2191.0,1928.0 2236.2,1863.8 2281.4,1920.8" fill="none" stroke="#d61e46" stroke-width="7" stroke-linejoin="round" stroke-linecap="round"/>
<polyline points="1739.0,1692.6 1784.2,1721.1 1829.4,1728.3 1874.6,1778.2 1919.8,1778.2 1965.0,1785.3 2010.2,1799.6 2055.4,1842.4 2100.6,1892.3 2145.8,1863.8 2191.0,1892.3 2236.2,1892.3 2281.4,1942.2" fill="none" stroke="#1f1f1f" stroke-width="7" stroke-linejoin="round" stroke-linecap="round"/>
<path d="M2290,1920 H2299.5 V1891 H2313 M2290,1942 H2313 M2290,1957 H2297.5 V1992.5 H2312" fill="none" stroke="#444" stroke-width="2.2"/>
<circle cx="2281.4" cy="1920.8" r="8" fill="#fff" stroke="#111" stroke-width="4"/>
<circle cx="2281.4" cy="1942.2" r="8" fill="#fff" stroke="#111" stroke-width="4"/>
<circle cx="2281.4" cy="1956.5" r="8" fill="#fff" stroke="#111" stroke-width="4"/>
<text x="2316.6" y="1904.5" font-size="50.0" font-weight="bold" fill="#1a1a1a" textLength="45.0" lengthAdjust="spacingAndGlyphs">0,5</text>
<text x="2316.6" y="1957.6" font-size="50.0" font-weight="bold" fill="#1a1a1a" textLength="45.0" lengthAdjust="spacingAndGlyphs">0,2</text>
<text x="2316.6" y="2010.7" font-size="50.0" font-weight="bold" fill="#1a1a1a" textLength="45.0" lengthAdjust="spacingAndGlyphs">0,0</text>
<text x="897.0" y="2241.0" font-size="26.0" fill="#333" textLength="141.4" lengthAdjust="spacingAndGlyphs">FUENTE: INE</text>
<text x="2092.4" y="2240.6" font-size="26.0" font-weight="bold" fill="#222" textLength="148.3" lengthAdjust="spacingAndGlyphs">LA TERCERA</text>
<rect x="2260.5" y="2141.8" width="102.8" height="98.8" fill="#e01b22"/>
<rect x="2271.4" y="2158.6" width="11.8" height="65.2" fill="#fff"/>
<rect x="2271.4" y="2213" width="39.6" height="10.8" fill="#fff"/>
<rect x="2303" y="2160.5" width="48.5" height="10.4" fill="#fff"/>
<rect x="2320.8" y="2160.5" width="11.9" height="63.3" fill="#fff"/>
</svg>
</body></html>
